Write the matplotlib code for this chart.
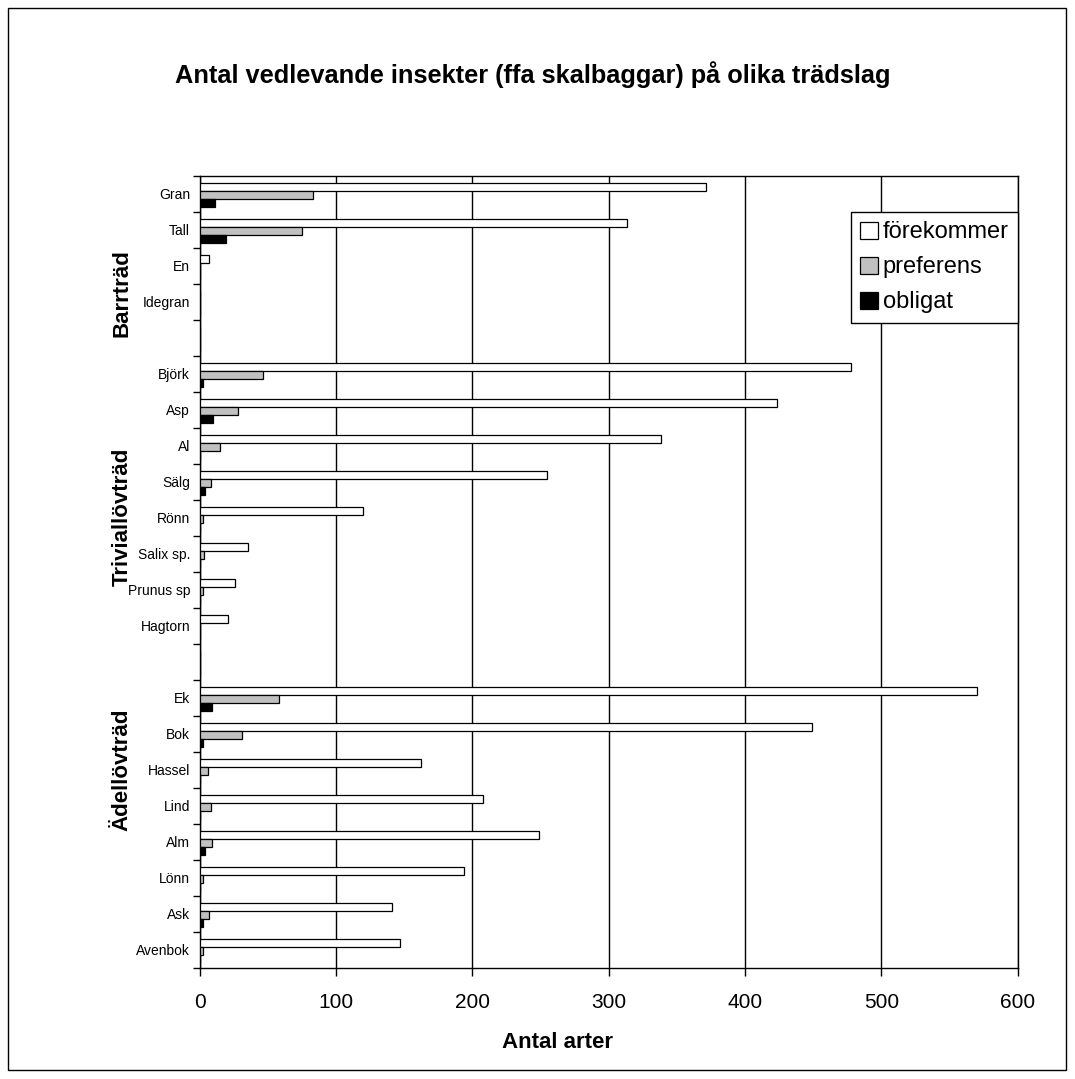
import matplotlib
matplotlib.use('Agg')
import matplotlib.pyplot as plt
import numpy as np
from matplotlib.patches import Rectangle

plt.rcParams['font.family'] = ['Liberation Sans', 'DejaVu Sans']

# tree species, top to bottom ('' = empty slot between groups)
species = ['Gran', 'Tall', 'En', 'Idegran', '',
           'Björk', 'Asp', 'Al', 'Sälg', 'Rönn', 'Salix sp.', 'Prunus sp', 'Hagtorn', '',
           'Ek', 'Bok', 'Hassel', 'Lind', 'Alm', 'Lönn', 'Ask', 'Avenbok']

forekommer = [371, 313, 7, 0, 0,
              478, 423, 338, 255, 120, 35, 26, 21, 0,
              570, 449, 162, 208, 249, 194, 141, 147]
preferens = [83, 75, 0, 0, 0,
             46, 28, 15, 8, 2, 3, 2, 0, 0,
             58, 31, 6, 8, 9, 2, 7, 2]
obligat = [11, 19, 0, 0, 0,
           2, 10, 0, 4, 0, 0, 0, 0, 0,
           9, 2, 0, 0, 4, 0, 2, 0]

series_names = ['förekommer', 'preferens', 'obligat']
groups = ['Barrträd', 'Triviallövträd', 'Ädellövträd']

fig = plt.figure(figsize=(10.75, 10.79), dpi=100)
ax = fig.add_axes([0.1859, 0.1029, 0.7609, 0.7343])

y = np.arange(len(species))
h = 0.225
ax.barh(y - 0.19, forekommer, height=h, color='white', edgecolor='black', linewidth=0.9,
        label=series_names[0], zorder=3)
ax.barh(y + 0.035, preferens, height=h, color='#c0c0c0', edgecolor='black', linewidth=0.9,
        label=series_names[1], zorder=3)
ax.barh(y + 0.26, obligat, height=h, color='black', edgecolor='black', linewidth=0.9,
        label=series_names[2], zorder=3)

ax.set_xlim(0, 600)
ax.set_ylim(len(species) - 0.5, -0.5)
ax.set_xticks(range(0, 601, 100))
ax.tick_params(axis='x', labelsize=15, length=6, width=1, direction='out', pad=12)
ax.xaxis.grid(True, color='black', linewidth=1, zorder=0)

# category labels at slot centres, ticks at slot boundaries
ax.set_yticks(np.arange(len(species) + 1) - 0.5)
ax.set_yticklabels([])
ax.tick_params(axis='y', which='major', length=5, width=1, direction='out')
ax.set_yticks(y, minor=True)
ax.set_yticklabels(species, minor=True, fontsize=10)
ax.tick_params(axis='y', which='minor', length=0, pad=7)

for s in ax.spines.values():
    s.set_linewidth(1)
    s.set_color('black')

fig.text(558 / 1075, 1 - 1042 / 1079, 'Antal arter', ha='center', va='center',
         fontsize=16, fontweight='bold')

# group labels
group_pos = [0.852, 0.569, 0.250]
for g, gy in zip(groups, group_pos):
    ax.text(-0.095, gy, g, transform=ax.transAxes, rotation=90, ha='center', va='center',
            fontsize=16, fontweight='bold')

fig.text(533 / 1075, 1 - 75 / 1079, 'Antal vedlevande insekter (ffa skalbaggar) på olika trädslag',
         ha='center', va='center', fontsize=18.3, fontweight='bold')

leg = ax.legend(loc='upper right', bbox_to_anchor=(1018 / 1075, 1 - 212 / 1079),
                bbox_transform=fig.transFigure, fontsize=17, frameon=True, fancybox=False,
                edgecolor='black', framealpha=1, handlelength=0.75, handleheight=0.75,
                handletextpad=0.2, borderpad=0.4, labelspacing=0.55, borderaxespad=0)
leg.get_frame().set_linewidth(1)

fig.patches.append(Rectangle((8 / 1075, 9 / 1079), 1058 / 1075, 1062 / 1079,
                             transform=fig.transFigure, fill=False, edgecolor='black',
                             linewidth=1))

fig.savefig('out.png', dpi=100)
